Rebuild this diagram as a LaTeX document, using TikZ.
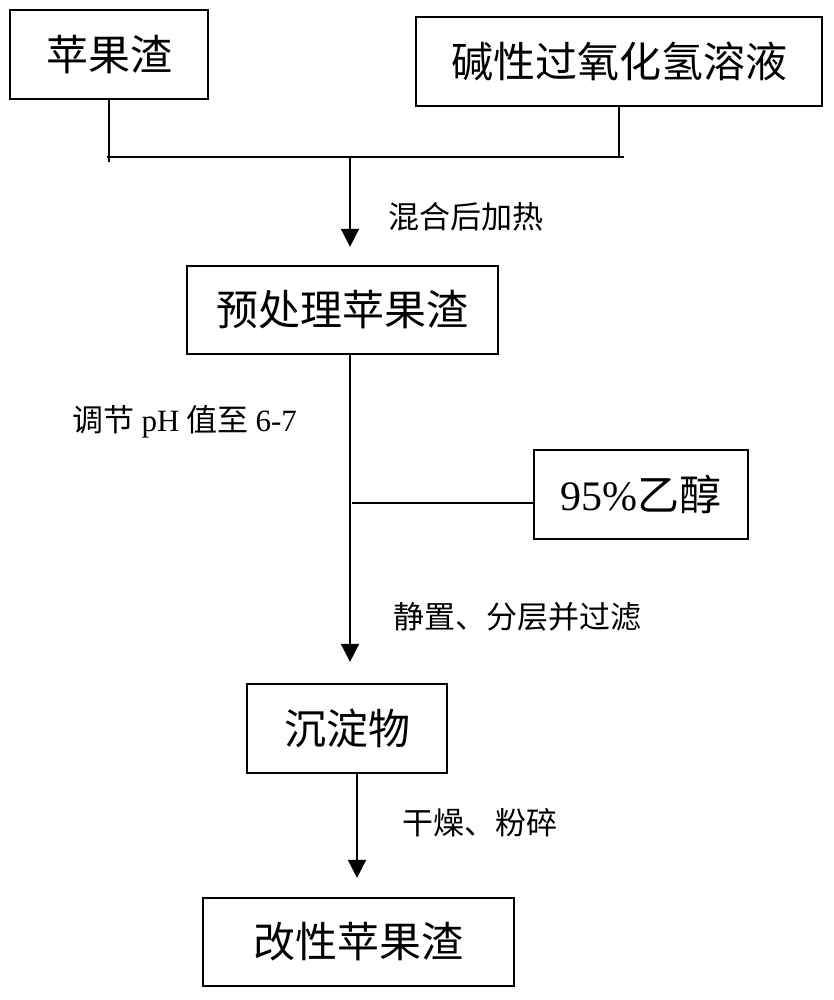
\documentclass[tikz,border=0pt]{standalone}
\usepackage{fontspec}
\setmainfont{Liberation Serif}
\newfontfamily\cjk{Noto Sans CJK SC}
\usetikzlibrary{arrows.meta}

\tikzset{
  stage/.style={draw, line width=2.2pt, inner sep=0pt, font=\fontsize{42}{48}\selectfont\cjk},
  note/.style={anchor=west, inner sep=0pt, font=\fontsize{31}{36}\selectfont\cjk},
}

\begin{document}
\begin{tikzpicture}[x=1pt, y=-1pt, >={Triangle[length=18pt,width=18pt]}, line width=1.6pt]
                \useasboundingbox (0,0) rectangle (833,1000);
                \node[stage, minimum width=198pt, minimum height=89pt] (pomace) at (109,54.5) {苹果渣};
                \node[stage, minimum width=406pt, minimum height=89pt] (peroxide) at (619,61.5) {碱性过氧化氢溶液};
                \node[stage, minimum width=311pt, minimum height=88pt] (pretreat) at (342.5,310) {预处理苹果渣};
                \node[stage, minimum width=214pt, minimum height=89pt] (ethanol) at (641,494.5) {{\rmfamily 95\%}乙醇};
                \node[stage, minimum width=200pt, minimum height=89pt] (precip) at (347,728.5) {沉淀物};
                \node[stage, minimum width=311pt, minimum height=88pt] (product) at (358.5,942) {改性苹果渣};
                \coordinate (mixL) at (107,157);
                \coordinate (mixR) at (624,157);
                \coordinate (mix) at (350,157);
                \coordinate (eth) at (352,503);
                \coordinate (dry) at (357,773);
                \draw (pomace.south) -- (pomace.south |- 0,162);
                \draw (peroxide.south) -- (peroxide.south |- mix);
                \draw (mixL) -- (mixR);
                \draw[->, shorten >=18pt] (mix) -- (mix |- pretreat.north);
                \draw[->, shorten >=21pt] (pretreat.south -| mix) -- (mix |- precip.north);
                \draw (eth) -- (eth -| ethanol.west);
                \draw[->, shorten >=19pt] (dry) -- (dry |- product.north);
                \node[note] (heat) at (388,217) {混合后加热};
                \node[note] (ph) at (72,422) {调节 {\rmfamily pH} 值至 {\rmfamily 6-7}};
                \node[note] (settle) at (393,617) {静置、分层并过滤};
                \node[note] (grind) at (402,823) {干燥、粉碎};
            \end{tikzpicture}
\end{document}
